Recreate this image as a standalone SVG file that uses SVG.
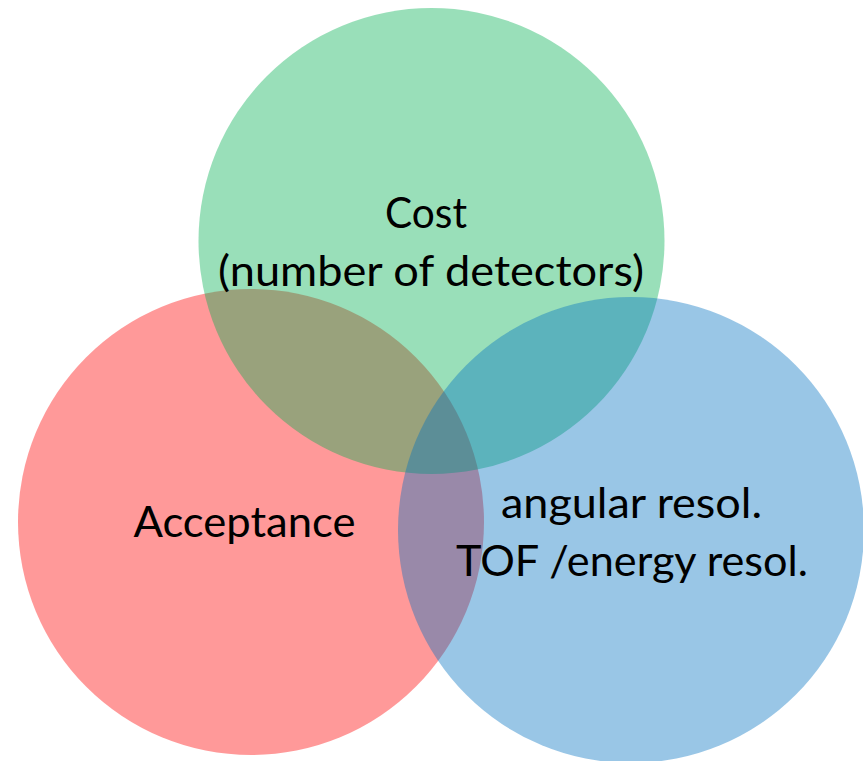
<svg xmlns="http://www.w3.org/2000/svg" width="863" height="761" viewBox="0 0 863 761">
  <style>
    .c { fill-opacity: 0.4; stroke: none; }
    .t { font-family: Lato, "Open Sans", "Liberation Sans", sans-serif; font-size: 42px; fill: #000000; text-anchor: middle; }
  </style>
  <rect x="0" y="0" width="863" height="761" fill="#ffffff"/>
  <g id="acceptance">
    <circle class="c" cx="251" cy="522" r="233" fill="#FF0000"/>
    <text class="t" x="244.5" y="537" textLength="222" lengthAdjust="spacingAndGlyphs">Acceptance</text>
  </g>
  <g id="cost">
    <circle class="c" cx="431.5" cy="241" r="233" fill="#00B050"/>
    <text class="t" x="426" y="228" textLength="82" lengthAdjust="spacingAndGlyphs">Cost</text>
    <text class="t" x="431" y="286" textLength="426" lengthAdjust="spacingAndGlyphs">(number of detectors)</text>
  </g>
  <g id="resolution">
    <circle class="c" cx="631" cy="530" r="233" fill="#0070C0"/>
    <text class="t" x="631.5" y="518" textLength="261" lengthAdjust="spacingAndGlyphs">angular resol.</text>
    <text class="t" x="632" y="576" textLength="352" lengthAdjust="spacingAndGlyphs">TOF /energy resol.</text>
  </g>
  <g id="connectors"/>
</svg>
